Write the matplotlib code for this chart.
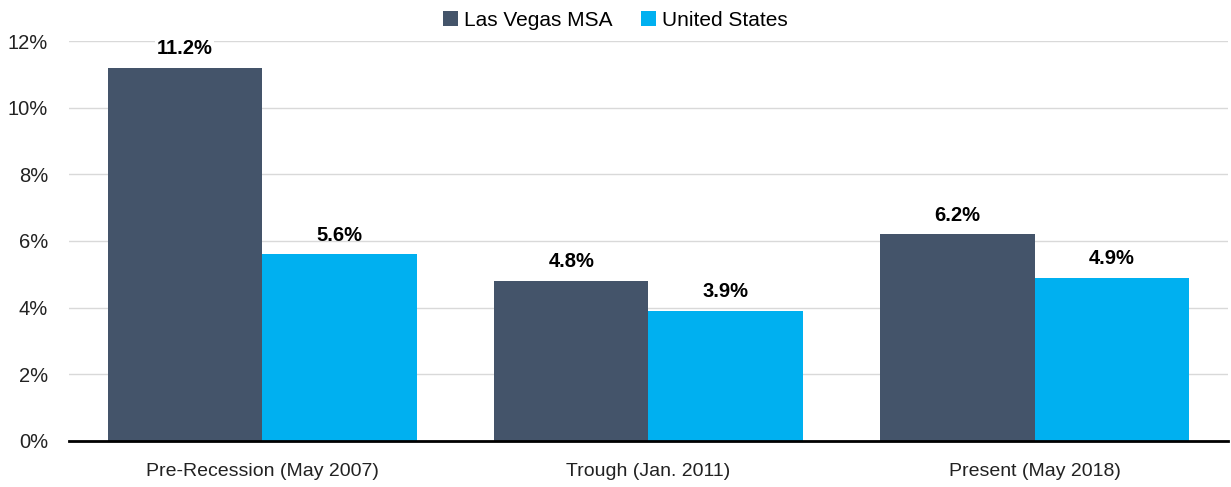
import matplotlib
matplotlib.use("Agg")
import matplotlib.pyplot as plt
import numpy as np

categories = ["Pre-Recession (May 2007)", "Trough (Jan. 2011)", "Present (May 2018)"]
series_names = ["Las Vegas MSA", "United States"]
las_vegas = [11.2, 4.8, 6.2]
united_states = [5.6, 3.9, 4.9]
yticks = [0, 2, 4, 6, 8, 10, 12]

plt.rcParams['font.family'] = ['Liberation Sans', 'DejaVu Sans']

fig = plt.figure(figsize=(12.31, 4.87), dpi=100)
ax = fig.add_axes([0.056, 0.0945, 0.9416, 0.8213])

x = np.arange(len(categories))
w = 0.4
c1, c2 = "#44546A", "#00B0F0"
b1 = ax.bar(x - w/2, las_vegas, w, color=c1, label=series_names[0], zorder=3)
b2 = ax.bar(x + w/2, united_states, w, color=c2, label=series_names[1], zorder=3)

for bars, vals in ((b1, las_vegas), (b2, united_states)):
    for b, v in zip(bars, vals):
        ax.annotate(f"{v:.1f}%", (b.get_x() + b.get_width()/2, v), xytext=(0, 7),
                    textcoords="offset points", ha="center", va="bottom",
                    fontsize=14.5, fontweight="bold", color="black", zorder=4,
                    bbox=dict(facecolor="white", edgecolor="none", pad=1) if v > 11 else None)

ax.set_xlim(-0.5, 2.5)
ax.set_ylim(0, 12)
ax.set_yticks(yticks)
ax.set_yticklabels([f"{t}%" for t in yticks], fontsize=14.5, color="#222222")
ax.set_xticks(x)
ax.set_xticklabels(categories, fontsize=14, color="#222222")
ax.tick_params(axis="both", length=0)
ax.tick_params(axis="y", pad=15)
ax.tick_params(axis="x", pad=16)
ax.grid(axis="y", color="#D9D9D9", linewidth=1, zorder=0)
for s in ("top", "right", "left"):
    ax.spines[s].set_visible(False)
ax.spines["bottom"].set_color("black")
ax.spines["bottom"].set_linewidth(2)
ax.spines["bottom"].set_zorder(5)

leg = fig.legend(handles=[b1, b2], labels=series_names, loc="center", bbox_to_anchor=(0.5, 0.958),
                 ncol=2, frameon=False, fontsize=15, handlelength=0.7, handleheight=0.7,
                 handletextpad=0.3, columnspacing=1.4)

fig.savefig("out.png", dpi=100)
